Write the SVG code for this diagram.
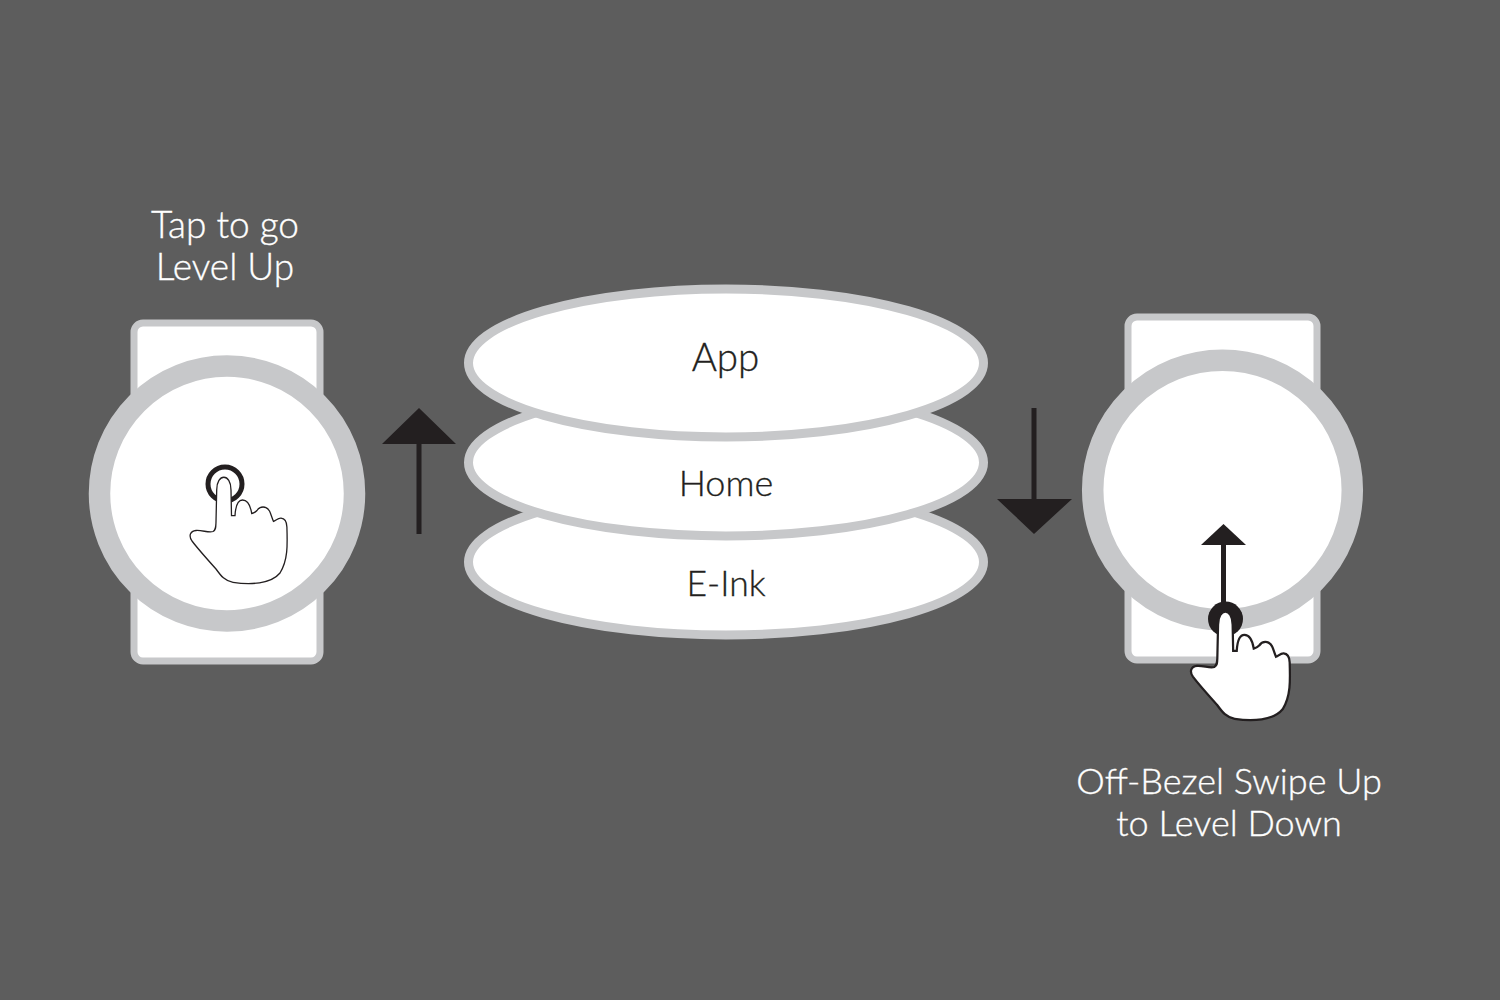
<svg xmlns="http://www.w3.org/2000/svg" xmlns:xlink="http://www.w3.org/1999/xlink" width="1500" height="1000" viewBox="0 0 1500 1000">
<style>
.t{font-family:"Lato","Liberation Sans",sans-serif;font-weight:300;font-size:36px;text-anchor:middle;stroke-width:.35}
.k{fill:#231f20;stroke:#231f20}
.l{fill:#fff;stroke:#fff}
.b{fill:#231f20}
.d{fill:#fff;stroke:#c7c8ca;stroke-width:9}
.r{fill:#fff;stroke:#c7c8ca;stroke-width:7}
.c{fill:#fff;stroke:#c7c8ca;stroke-width:21.500}
.s{stroke:#231f20;fill:none}
</style>
<defs>
<path id="hand" d="M216.7 490C216.7 473 231 473 231 490L231.500 515.700L235 515.700C235.500 507 237 500 242.500 500C248 500 250.500 506 251.700 513.500C254 513 255.500 512 257 510.500C260 506 266 505.500 269.500 511C271 514 272 518 273.500 521.500C276 520.500 278 518 281 518.200C285 518.500 286.700 522 286.900 527C287.500 545 288 560 280 573C271 584 250 585 233 582.300C225 581 221 576 216 569C207 559 198 549 192 541C188.500 536 190 531 196 530.500C202 530 209 533 213 531.500C216 530 215.800 527 216 522Z"/>
</defs>
<rect width="1500" height="1000" fill="#5d5d5d"/>
<g id="watch-left">
<rect x="134" y="323" width="186" height="338" rx="9" class="r"/>
<circle cx="227" cy="493.500" r="127.500" class="c"/>
</g>
<g id="watch-right">
<rect x="1128" y="317" width="189" height="343" rx="9" class="r"/>
<circle cx="1222.500" cy="490" r="129.800" class="c"/>
</g>
<g id="layer-eink">
<ellipse cx="726" cy="562" rx="257.500" ry="73" class="d"/>
<text x="726" y="596" class="t k" style="font-size:35.500px">E-Ink</text>
</g>
<g id="layer-home">
<ellipse cx="726" cy="462.500" rx="257.500" ry="73.500" class="d"/>
<text x="726" y="496" class="t k">Home</text>
</g>
<g id="layer-app">
<ellipse cx="726" cy="363" rx="257.500" ry="74" class="d"/>
<text x="725.500" y="370.500" class="t k" style="font-size:38.500px">App</text>
</g>
<g id="connectors">
<path class="s" stroke-width="5" d="M419 440V534M1034 408V502"/>
<path class="b" d="M382 444L419 408L456 444ZM997 499L1072 499L1034 534Z"/>
<path class="s" stroke-width="5" d="M1223.500 545V610"/>
<path class="b" d="M1201 545L1223.500 524L1246 545Z"/>
</g>
<g id="hand-left">
<circle cx="225" cy="484" r="17" fill="none" stroke="#231f20" stroke-width="5"/>
<use xlink:href="#hand" href="#hand" fill="#fff" stroke="#231f20" stroke-width="1.300"/>
</g>
<g id="hand-right">
<circle cx="1225.500" cy="619" r="17.500" class="b"/>
<use xlink:href="#hand" href="#hand" transform="translate(1225 611.700) scale(1.020) translate(-223.500 -477.300)" fill="#fff" stroke="#231f20" stroke-width="2.200"/>
</g>
<g id="labels">
<text x="225" y="238" class="t l" style="font-size:37px">Tap to go</text>
<text x="225" y="280" class="t l" style="font-size:37px">Level Up</text>
<text x="1229" y="794" class="t l">Off-Bezel Swipe Up</text>
<text x="1229" y="836" class="t l">to Level Down</text>
</g>
</svg>
